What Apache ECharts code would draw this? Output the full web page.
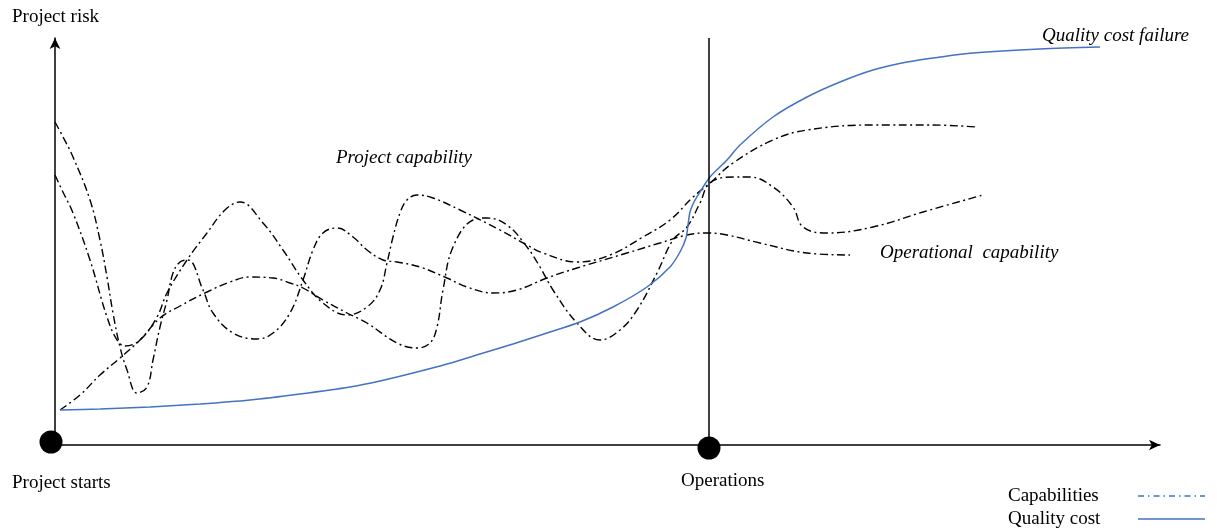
<!DOCTYPE html>
<html>
<head>
<meta charset="utf-8">
<script src="https://cdn.jsdelivr.net/npm/echarts@6/dist/echarts.min.js"></script>
<style>html,body{margin:0;padding:0;background:#fff}#c{width:1217px;height:531px}</style>
</head>
<body>
<div id="c"></div>
<script>
// Conceptual diagram: x = project time (arbitrary units), y = project risk (arbitrary units)
const capabilityA = [[0,323],[7,310],[18,288],[35,245],[45,205],[52,168],[58,132],[65,98],[72,75],[82,52],[92,58],[98,85],[105,118],[112,145],[118,172],[125,183],[133,185],[148,155],[158,132],[178,112],[202,106],[218,112],[235,132],[248,165],[258,195],[268,212],[282,217],[298,208],[312,195],[328,185],[342,183],[365,178],[392,167],[412,158],[438,152],[462,155],[492,167],[522,177],[572,192],[605,202],[632,210],[652,212],[672,210],[705,202],[752,192],[795,190]];
const capabilityB = [[0,270],[7,255],[18,232],[35,185],[52,128],[62,105],[70,99],[85,105],[102,128],[112,152],[132,185],[152,212],[170,235],[185,243],[208,222],[228,195],[248,165],[268,142],[292,130],[312,138],[325,155],[332,182],[338,208],[345,232],[352,245],[362,250],[378,247],[405,235],[445,215],[472,200],[488,192],[522,183],[555,190],[588,208],[615,225],[638,248],[655,262],[678,282],[718,305],[752,315],[818,320],[875,320],[922,318]];
const capabilityC = [[5,35],[25,50],[45,70],[65,87],[85,105],[105,127],[125,139],[152,153],[175,163],[195,168],[218,167],[235,162],[248,157],[268,145],[292,132],[312,122],[342,102],[362,97],[375,102],[382,118],[388,155],[398,198],[418,225],[432,227],[452,220],[472,198],[485,178],[498,155],[522,122],[545,105],[565,115],[582,135],[602,172],[618,205],[632,218],[645,242],[655,262],[678,268],[695,268],[718,258],[738,238],[748,218],[772,212],[818,218],[868,233],[928,250]];
const qualityCost = [[5,35],[45,36],[95,38],[145,41],[195,45],[245,51],[295,58],[325,64],[358,72],[392,81],[425,91],[458,101],[492,112],[525,123],[558,138],[592,158],[615,178],[625,193],[631,207],[633,220],[635,233],[639,243],[645,253],[655,268],[672,285],[685,300],[718,328],[752,348],[785,363],[818,375],[852,383],[885,388],[918,392],[985,396],[1045,398]];
const milestones = [[-4,3],[654,-3]];
const operationsX = 654;
const seriesNames = ['Capabilities', 'Quality cost'];
const annotations = ['Project risk', 'Project starts', 'Operations', 'Project capability', 'Quality cost failure', 'Operational  capability'];

const FONT = '"Liberation Serif", "DejaVu Serif", serif';
const dashDot = [8, 3.5, 2, 3.5];
const BLUE = '#4472C4';

const chart = echarts.init(document.getElementById('c'), null, {renderer: 'canvas'});

function capSeries(data) {
  return {
    name: seriesNames[0], type: 'line', data: data, smooth: 0.4, symbol: 'none',
    lineStyle: {color: '#000', width: 1.4, type: dashDot}, silent: true, z: 3
  };
}

function txt(text, x, y, italic) {
  return {
    type: 'text', x: x, y: y, silent: true,
    style: {text: text, fill: '#000', font: (italic ? 'italic ' : '') + '19px ' + FONT, verticalAlign: 'middle'}
  };
}

function legendLine(y, dash) {
  return {
    type: 'line', silent: true,
    shape: {x1: 1138, y1: y, x2: 1205, y2: y},
    style: {stroke: BLUE, lineWidth: 1.3, lineDash: dash}
  };
}

chart.setOption({
  animation: false,
  backgroundColor: '#fff',
  grid: {left: 55, right: 57, top: 38, bottom: 86},
  xAxis: {
    type: 'value', min: 0, max: 1105,
    axisLine: {show: true, onZero: false, symbol: ['none', 'arrow'], symbolSize: [8, 11], lineStyle: {color: '#000', width: 1.5}},
    axisTick: {show: false}, axisLabel: {show: false}, splitLine: {show: false}
  },
  yAxis: {
    type: 'value', min: 0, max: 407,
    axisLine: {show: true, onZero: false, symbol: ['none', 'arrow'], symbolSize: [8, 11], lineStyle: {color: '#000', width: 1.5}},
    axisTick: {show: false}, axisLabel: {show: false}, splitLine: {show: false}
  },
  legend: {show: false},
  series: [
    capSeries(capabilityA),
    capSeries(capabilityB),
    capSeries(capabilityC),
    {
      name: seriesNames[1], type: 'line', data: qualityCost, smooth: 0.3, symbol: 'none',
      lineStyle: {color: BLUE, width: 1.5}, silent: true, z: 4,
      markLine: {
        silent: true, symbol: 'none', label: {show: false},
        lineStyle: {color: '#000', width: 1.5, type: 'solid'},
        data: [{xAxis: operationsX}]
      }
    },
    {
      type: 'scatter', data: milestones, symbol: 'circle', symbolSize: 23,
      itemStyle: {color: '#000', opacity: 1}, clip: false, silent: true, z: 5
    }
  ],
  graphic: [
    txt(annotations[0], 12, 17, false),
    txt(annotations[1], 12, 483, false),
    txt(annotations[2], 681, 481, false),
    txt(annotations[3], 336, 158, true),
    txt(annotations[4], 1042, 36, true),
    txt(annotations[5], 880, 253, true),
    txt(seriesNames[0], 1008, 496, false),
    txt(seriesNames[1], 1008, 519, false),
    legendLine(496, [6, 4, 1.5, 4]),
    legendLine(519, null)
  ]
});
</script>
</body>
</html>
